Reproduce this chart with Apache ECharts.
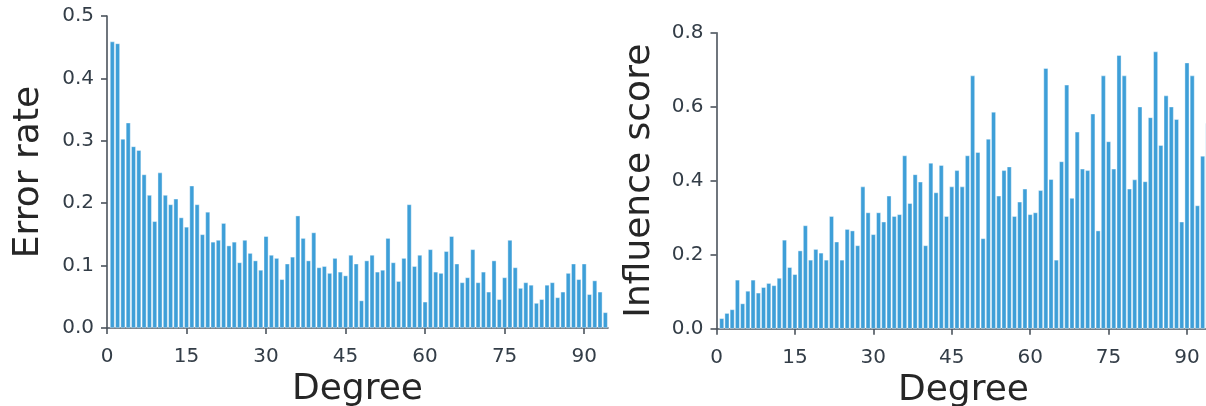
<!DOCTYPE html>
<html>
<head>
<meta charset="utf-8">
<script src="https://cdn.jsdelivr.net/npm/echarts@6/dist/echarts.min.js"></script>
<style>
html,body{margin:0;padding:0;background:#fff;}
#chart{width:1206px;height:406px;}
</style>
</head>
<body>
<div id="chart"></div>
<script>
// Degrees 1..94 (left) and 1..94 (right)
const errorRate = [
  0.459,0.456,0.303,0.329,0.291,0.285,0.246,0.213,0.171,0.249,
  0.213,0.198,0.207,0.177,0.162,0.228,0.198,0.150,0.186,0.138,
  0.141,0.168,0.132,0.138,0.105,0.141,0.120,0.108,0.093,0.147,
  0.117,0.112,0.078,0.103,0.114,0.180,0.144,0.108,0.153,0.097,
  0.099,0.088,0.112,0.090,0.084,0.117,0.103,0.044,0.108,0.117,
  0.090,0.093,0.144,0.105,0.075,0.112,0.198,0.099,0.117,0.042,
  0.126,0.090,0.088,0.123,0.147,0.103,0.073,0.081,0.126,0.073,
  0.090,0.058,0.108,0.046,0.081,0.141,0.097,0.064,0.073,0.069,
  0.040,0.046,0.069,0.073,0.049,0.058,0.088,0.103,0.078,0.103,
  0.054,0.076,0.058,0.025
];
const influenceScore = [
  0.028,0.042,0.052,0.132,0.068,0.102,0.132,0.097,0.112,0.123,
  0.117,0.137,0.240,0.166,0.147,0.211,0.279,0.186,0.215,0.205,
  0.186,0.304,0.235,0.186,0.269,0.265,0.225,0.384,0.314,0.255,
  0.314,0.289,0.359,0.304,0.309,0.468,0.339,0.417,0.397,0.225,
  0.448,0.368,0.442,0.304,0.384,0.428,0.384,0.468,0.684,0.477,
  0.244,0.513,0.586,0.359,0.428,0.438,0.304,0.343,0.378,0.309,
  0.314,0.374,0.704,0.404,0.186,0.452,0.659,0.353,0.532,0.432,
  0.428,0.581,0.265,0.684,0.506,0.432,0.739,0.684,0.378,0.403,
  0.600,0.398,0.571,0.749,0.496,0.630,0.600,0.566,0.289,0.719,
  0.684,0.333,0.467,0.555
];
const xTicks = [0,15,30,45,60,75,90];
const leftYTicks = [0,0.1,0.2,0.3,0.4,0.5];
const rightYTicks = [0,0.2,0.4,0.6,0.8];
const leftTitle = 'Error rate';
const rightTitle = 'Influence score';
const xTitle = 'Degree';

const toPairs = arr => arr.map((v,i)=>[i+1,v]);

const FONT = 'DejaVu Sans';
const tickColor = '#333d47';
const lineColor = '#4b535c';
const barColor = '#3e9fd8';

function xAxisCfg(idx){
  return {
    type:'value', gridIndex:idx, min:0, max:94.5, interval:15,
    offset:9,
    name:xTitle, nameLocation:'middle', nameGap:32,
    nameTextStyle:{fontFamily:FONT,fontSize:36,color:'#262626'},
    axisLine:{show:true,lineStyle:{color:lineColor,width:1.6}},
    axisTick:{show:true,length:6,inside:false,customValues:xTicks,lineStyle:{color:lineColor,width:1.6}},
    axisLabel:{customValues:xTicks,fontFamily:FONT,fontSize:20,color:tickColor,margin:10},
    splitLine:{show:false}
  };
}
function yAxisCfg(idx,max,interval,ticks,name,gap){
  return {
    type:'value', gridIndex:idx, min:0, max:max, interval:interval,
    offset:5,
    name:name, nameLocation:'middle', nameGap:gap,
    nameTextStyle:{fontFamily:FONT,fontSize:36,color:'#262626'},
    axisLine:{show:true,lineStyle:{color:lineColor,width:1.6}},
    axisTick:{show:true,length:6,customValues:ticks,lineStyle:{color:lineColor,width:1.6}},
    axisLabel:{customValues:ticks,fontFamily:FONT,fontSize:20,color:tickColor,margin:8,
      formatter:v=>v.toFixed(1)},
    splitLine:{show:false}
  };
}

const chart = echarts.init(document.getElementById('chart'),null,{renderer:'canvas'});
chart.setOption({
  animation:false,
  backgroundColor:'#fff',
  grid:[
    {left:107,top:16,width:501,height:312,containLabel:false,outerBoundsMode:'none'},
    {left:716.5,top:32.7,width:494,height:296,containLabel:false,outerBoundsMode:'none'}
  ],
  xAxis:[xAxisCfg(0),xAxisCfg(1)],
  yAxis:[
    yAxisCfg(0,0.5,0.1,leftYTicks,leftTitle,55),
    yAxisCfg(1,0.8,0.2,rightYTicks,rightTitle,54)
  ],
  series:[
    {type:'bar',xAxisIndex:0,yAxisIndex:0,data:toPairs(errorRate),barWidth:4.6,
     itemStyle:{color:barColor,borderColor:'rgba(255,255,255,0.8)',borderWidth:0.5}},
    {type:'bar',xAxisIndex:1,yAxisIndex:1,data:toPairs(influenceScore),barWidth:4.6,
     itemStyle:{color:barColor,borderColor:'rgba(255,255,255,0.8)',borderWidth:0.5}}
  ]
});
</script>
</body>
</html>
